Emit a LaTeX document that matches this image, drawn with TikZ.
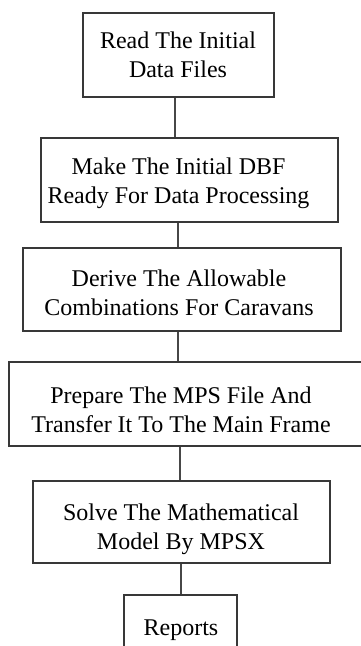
\documentclass[tikz,border=0pt]{standalone}
\usepackage{fontspec}
\setmainfont{Liberation Serif}
\begin{document}
\begin{tikzpicture}[x=1pt,y=-1pt,
  flowbox/.style={draw=black!78, line width=1.6pt, inner sep=0pt},
  flowtext/.style={align=center, inner sep=0pt, text=black, font=\fontsize{24}{29}\selectfont},
  conn/.style={draw=black!72, line width=1.5pt}]
\useasboundingbox (0,0) rectangle (361,646);
\begin{scope}
\clip (0,0) rectangle (361,646);
% boxes
\node[flowbox, minimum width=191pt, minimum height=84pt] (b1) at (178.5,55) {};
\node[flowbox, minimum width=297pt, minimum height=84pt] (b2) at (189.5,180) {};
\node[flowbox, minimum width=318pt, minimum height=83pt] (b3) at (182,289.5) {};
\node[flowbox, minimum width=361pt, minimum height=84pt] (b4) at (189.5,404) {};
\node[flowbox, minimum width=297pt, minimum height=82pt] (b5) at (181.5,522) {};
\node[flowbox, minimum width=113pt, minimum height=75pt] (b6) at (180.5,632.5) {};
% texts
\node[flowtext] (t1) at (178,55) {Read The Initial\\Data Files};
\node[flowtext] (t2) at (178.5,183) {Make The Initial DBF\\Ready For Data Processing};
\node[flowtext] (t3) at (179,293) {Derive The Allowable\\Combinations For Caravans};
\node[flowtext] (t4) at (181,410) {Prepare The MPS File And\\Transfer It To The Main Frame};
\node[flowtext] (t5) at (181,529) {Solve The Mathematical\\Model By MPSX};
\node[flowtext] (t6) at (181,630.5) {Reports};
% connectors
\draw[conn] ([xshift=-3.5pt]b1.south) -- ([xshift=-14.5pt]b2.north);
\draw[conn] ([xshift=-11.5pt]b2.south) -- ([xshift=-4pt]b3.north);
\draw[conn] ([xshift=-4pt]b3.south) -- ([xshift=-11.5pt]b4.north);
\draw[conn] ([xshift=-9.5pt]b4.south) -- ([xshift=-1.5pt]b5.north);
\draw[conn] ([xshift=-0.5pt]b5.south) -- ([xshift=0.5pt]b6.north);
\end{scope}
\end{tikzpicture}
\end{document}
